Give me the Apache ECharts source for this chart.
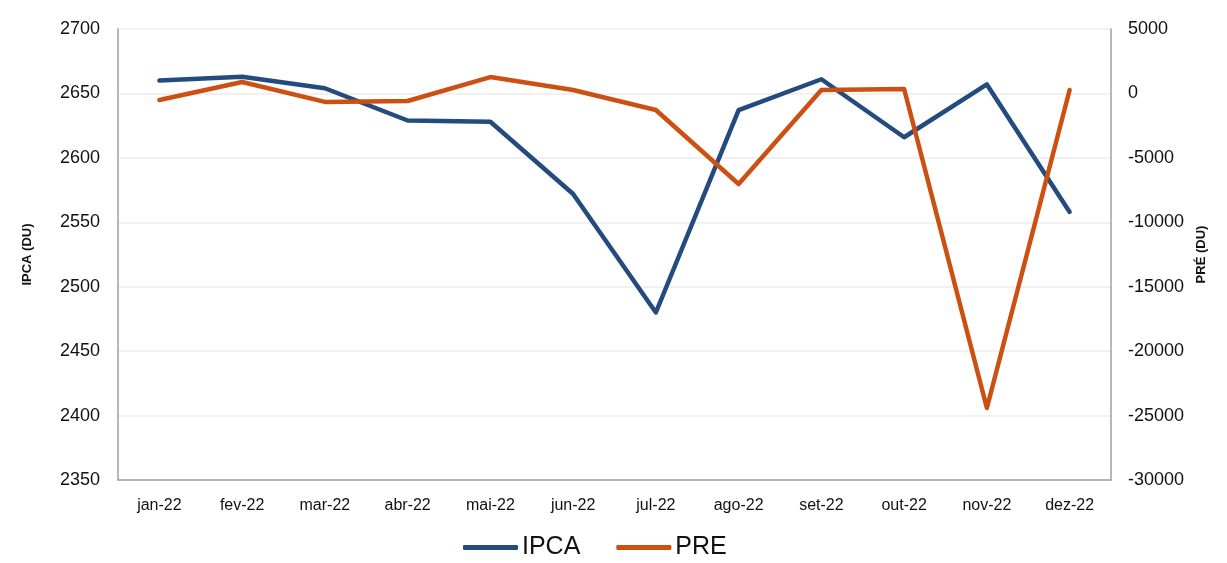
<!DOCTYPE html>
<html>
<head>
<meta charset="utf-8">
<script src="https://cdn.jsdelivr.net/npm/echarts@6/dist/echarts.min.js"></script>
<style>
  html, body { margin: 0; padding: 0; background: #fff; }
  #chart { width: 1227px; height: 563px; }
</style>
</head>
<body>
<div id="chart"></div>
<script>
// dados
const months = ['jan-22', 'fev-22', 'mar-22', 'abr-22', 'mai-22', 'jun-22',
  'jul-22', 'ago-22', 'set-22', 'out-22', 'nov-22', 'dez-22']
const ipca = [2660, 2663, 2654, 2629, 2628, 2572, 2480, 2637, 2661, 2616, 2657, 2558]
const pre = [-510, 890, -660, -590, 1270, 270, -1290, -7030, 270, 340, -24410, 270]

const chart = echarts.init(document.getElementById('chart'))

const font = 'Liberation Sans, Arial, sans-serif'

chart.setOption({
  animation: false,
  grid: { left: 118, right: 116, top: 29, bottom: 83 },
  legend: {
    bottom: -2,
    left: 458,
    itemWidth: 55,
    itemHeight: 5,
    itemGap: 36,
    textStyle: { fontSize: 25, color: '#111', fontFamily: font, padding: [0, 0, 0, -1] },
    data: [
      { name: 'IPCA', icon: 'roundRect' },
      { name: 'PRE', icon: 'roundRect' }
    ]
  },
  xAxis: {
    type: 'category',
    data: months,
    boundaryGap: true,
    axisTick: { show: false },
    axisLine: { onZero: false, lineStyle: { color: '#a0a0a0', width: 1.5 } },
    axisLabel: { color: '#111', fontSize: 16, fontFamily: font, margin: 18, interval: 0 }
  },
  yAxis: [{
    type: 'value',
    min: 2350,
    max: 2700,
    interval: 50,
    name: 'IPCA (DU)',
    nameLocation: 'middle',
    nameGap: 84,
    nameTextStyle: { fontSize: 13, fontWeight: 'bold', color: '#111', fontFamily: font },
    axisLine: { show: true, onZero: false, lineStyle: { color: '#a0a0a0', width: 1.5 } },
    axisTick: { show: false },
    axisLabel: { color: '#111', fontSize: 18, fontFamily: font, margin: 18, formatter: v => String(v) },
    splitLine: { lineStyle: { color: '#ececec', width: 1.5 } }
  }, {
    type: 'value',
    min: -30000,
    max: 5000,
    interval: 5000,
    name: 'PRÉ (DU)',
    nameLocation: 'middle',
    nameGap: 74,
    nameRotate: 90,
    nameTextStyle: { fontSize: 13, fontWeight: 'bold', color: '#111', fontFamily: font },
    axisLine: { show: true, onZero: false, lineStyle: { color: '#a0a0a0', width: 1.5 } },
    axisTick: { show: false },
    axisLabel: { color: '#111', fontSize: 18, fontFamily: font, margin: 17, formatter: v => String(v) },
    splitLine: { show: false }
  }],
  series: [{
    name: 'IPCA',
    type: 'line',
    data: ipca,
    yAxisIndex: 0,
    symbol: 'none',
    color: '#244B7D',
    lineStyle: { width: 4.5, cap: 'round', join: 'round' }
  }, {
    name: 'PRE',
    type: 'line',
    data: pre,
    yAxisIndex: 1,
    symbol: 'none',
    color: '#CC5012',
    lineStyle: { width: 4.5, cap: 'round', join: 'round' }
  }]
})
</script>
</body>
</html>
